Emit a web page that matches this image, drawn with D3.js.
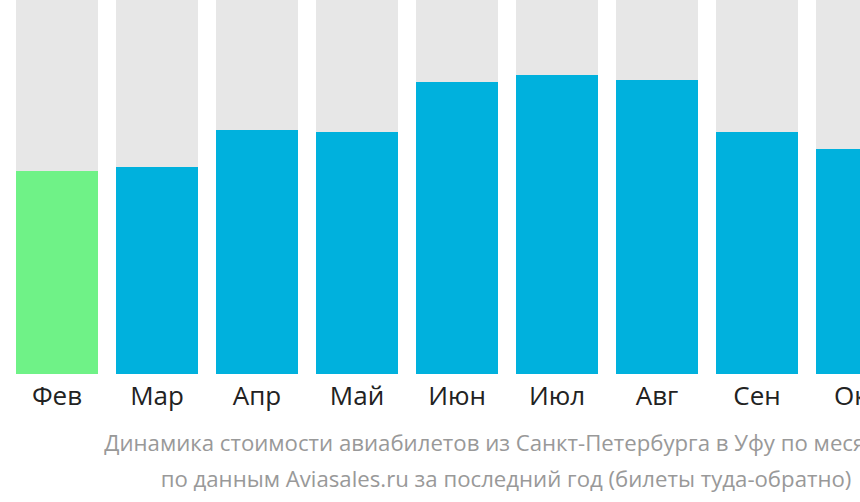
<!DOCTYPE html>
<html><head><meta charset="utf-8">
<script src="https://cdn.jsdelivr.net/npm/d3@7"></script>
<style>
html,body{margin:0;padding:0;background:#fff;overflow:hidden;}
svg{display:block;font-family:"Open Sans",sans-serif;}
</style></head><body>
<svg id="c" width="860" height="502"></svg>
<script>
const months = ["Фев","Мар","Апр","Май","Июн","Июл","Авг","Сен","Окт"];
const prices = [20300, 20700, 24400, 24200, 29200, 29900, 29400, 24200, 22500];
const highlight = ["Фев"];
const maxPrice = 37400;
const captionLines = [
  "Динамика стоимости авиабилетов из Санкт-Петербурга в Уфу по месяцам",
  "по данным Aviasales.ru за последний год (билеты туда-обратно)"
];

const svg = d3.select("#c");
const x = d3.scaleBand().domain(months).range([7, 7 + 100 * months.length])
  .paddingInner(0.18).paddingOuter(0.09);
const y = d3.scaleLinear().domain([0, maxPrice]).range([374, 0]);

const g = svg.append("g");
g.selectAll("rect.bg").data(months).join("rect")
  .attr("class","bg")
  .attr("x", d => x(d)).attr("width", x.bandwidth())
  .attr("y", y(maxPrice)).attr("height", y(0) - y(maxPrice))
  .attr("fill", "#e7e7e7");
g.selectAll("rect.v").data(months).join("rect")
  .attr("class","v")
  .attr("x", d => x(d)).attr("width", x.bandwidth())
  .attr("y", (d,i) => y(prices[i])).attr("height", (d,i) => y(0) - y(prices[i]))
  .attr("fill", d => highlight.includes(d) ? "#6ff287" : "#00b1dd");

const axis = d3.axisBottom(x).tickSize(0).tickPadding(0);
const ax = svg.append("g").attr("transform","translate(0,374)").call(axis);
ax.select(".domain").remove();
ax.selectAll("text").attr("font-family","'Open Sans',sans-serif").attr("font-size",26)
  .attr("fill","#222").attr("dy",null).attr("y",31);

svg.selectAll("text.cap").data(captionLines).join("text")
  .attr("class","cap")
  .attr("x", 506).attr("y", (d,i) => 451 + i * 36)
  .attr("text-anchor","middle").attr("font-size",22.2).attr("fill","#999")
  .text(d => d);
</script></body></html>
